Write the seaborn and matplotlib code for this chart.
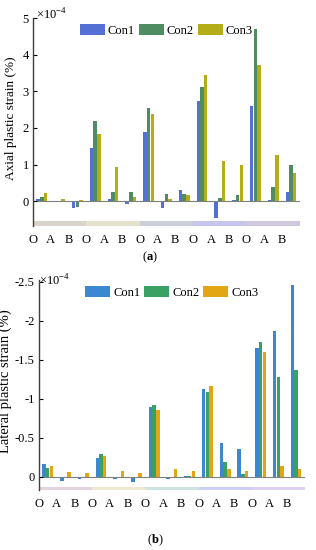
import numpy as np
import pandas as pd
import matplotlib
matplotlib.use("Agg")
import matplotlib.pyplot as plt
import seaborn as sns

# x tick labels (points O, A, B for five stages)
points = ["O", "A", "B"] * 5
series = ["Con1", "Con2", "Con3"]

# axial plastic strain, x1e-4 %
axial_con1 = [0.05, -0.02, -0.20, 1.45, 0.07, -0.08, 1.90, -0.20, 0.30, 2.75, -0.45, 0.02, 2.60, 0.02, 0.26]
axial_con2 = [0.11, -0.03, -0.17, 2.20, 0.25, 0.24, 2.55, 0.20, 0.20, 3.12, 0.08, 0.18, 4.70, 0.38, 1.00]
axial_con3 = [0.22, 0.07, 0.02, 1.83, 0.92, 0.12, 2.37, 0.07, 0.17, 3.45, 1.10, 0.98, 3.72, 1.25, 0.78]

# lateral plastic strain, x1e-4 %
lateral_con1 = [-0.16, 0.05, 0.03, -0.24, 0.03, 0.07, -0.89, 0.03, -0.01, -1.13, -0.43, -0.35, -1.65, -1.86, -2.46]
lateral_con2 = [-0.11, 0.02, 0.01, -0.29, 0.02, 0.01, -0.92, 0.00, -0.01, -1.08, -0.19, -0.03, -1.72, -1.28, -1.37]
lateral_con3 = [-0.135, -0.06, -0.05, -0.26, -0.07, -0.05, -0.85, -0.10, -0.07, -1.16, -0.10, -0.07, -1.60, -0.14, -0.10]

top_colors = ["#5470d4", "#4f8c62", "#b4ad18"]
bot_colors = ["#3b87d2", "#3aa063", "#e2a514"]
top_bands = ["#d9d3cb", "#e4e1cc", "#cbced8", "#c6c6ec", "#d0c9de"]
bot_bands = ["#e3d3de", "#ece9d0", "#cde3df", "#cccff1", "#dfcfee"]

plt.rcParams["font.family"] = ["Liberation Serif", "DejaVu Serif"]
plt.rcParams["mathtext.fontset"] = "custom"
plt.rcParams["mathtext.rm"] = "Liberation Serif"
plt.rcParams["mathtext.bf"] = "Liberation Serif:bold"


def long_df(c1, c2, c3):
    rows = []
    for name, vals in zip(series, [c1, c2, c3]):
        for i, v in enumerate(vals):
            rows.append({"group": i, "Con": name, "value": v})
    return pd.DataFrame(rows)


def draw(ax, df, colors, bands, ylim, band_top, ticks):
    sns.barplot(data=df, x="group", y="value", hue="Con", palette=colors,
                width=0.62, gap=0.05, ax=ax, saturation=1)
    ax.set_xlim(-0.5, 14.5)
    ax.set_ylim(*ylim)
    # coloured strips below the bars, one per stage
    for k in range(5):
        ax.fill_between([3 * k - 0.5, 3 * k + 2.5], ylim[0], band_top,
                        color=bands[k], lw=0, zorder=0)
    ax.axhline(0, color="#808080", lw=0.8, zorder=1)
    ax.set_xticks(np.arange(15) - 0.5)
    ax.set_xticklabels(points, fontsize=9)
    ax.tick_params(axis="x", length=0, pad=6)
    ax.set_yticks(ticks)
    ax.set_yticklabels(["%g" % t for t in ticks], fontsize=9)
    ax.tick_params(axis="y", direction="in", length=3, width=0.8, pad=3)
    for s in ["top", "right", "bottom"]:
        ax.spines[s].set_visible(False)
    ax.spines["left"].set_color("#404040")
    ax.spines["left"].set_linewidth(1.0)
    ax.set_xlabel("")
    ax.legend(ncol=3, frameon=False, fontsize=9, loc="center",
              bbox_to_anchor=(0.5, 0.94), handlelength=2.0, handleheight=0.9,
              handletextpad=0.25, columnspacing=0.3, borderpad=0)


fig = plt.figure(figsize=(3.16, 5.5), dpi=100)

ax1 = fig.add_axes([0.104, 0.589, 0.845, 0.378])
draw(ax1, long_df(axial_con1, axial_con2, axial_con3), top_colors, top_bands,
     (-0.68, 5), -0.55, [0, 1, 2, 3, 4, 5])
ax1.set_ylabel("Axial plastic strain (%)", fontsize=9.5, labelpad=2)
ax1.yaxis.set_label_coords(-0.06, 0.52)
ax1.text(0.01, 1.015, r"$\times10^{-4}$", transform=ax1.transAxes, fontsize=9,
         va="center", ha="left")

ax2 = fig.add_axes([0.123, 0.109, 0.842, 0.382])
draw(ax2, long_df(lateral_con1, lateral_con2, lateral_con3), bot_colors, bot_bands,
     (0.17, -2.52), 0.13, [0, -0.5, -1, -1.5, -2, -2.5])
ax2.set_ylabel("Lateral plastic strain (%)", fontsize=10.5, labelpad=2)
ax2.yaxis.set_label_coords(-0.1, 0.52)
ax2.text(0.0, 0.995, r"$\times10^{-4}$", transform=ax2.transAxes, fontsize=9,
         va="center", ha="left")

fig.text(0.475, 1 - 257 / 550, r"($\mathbf{a}$)", fontsize=9, ha="center", va="center")
fig.text(0.49, 1 - 540 / 550, r"($\mathbf{b}$)", fontsize=9, ha="center", va="center")

fig.savefig("out.png", dpi=100)
